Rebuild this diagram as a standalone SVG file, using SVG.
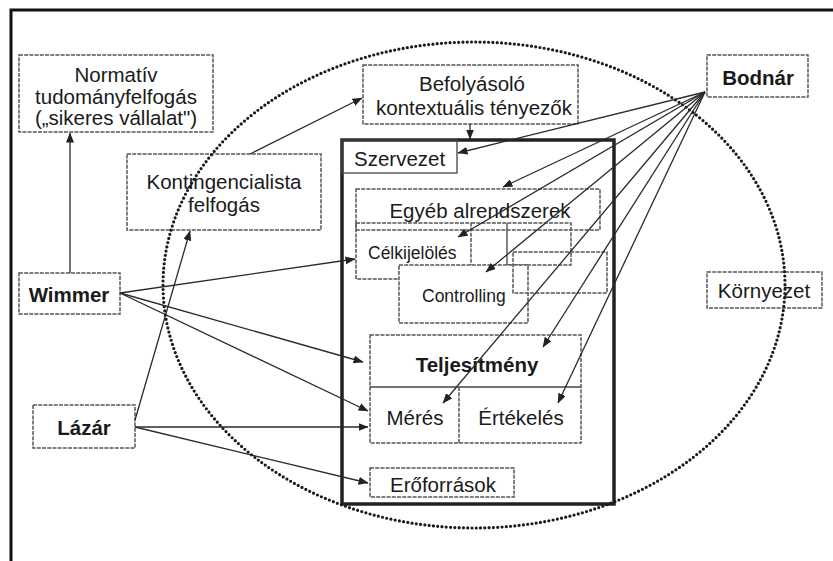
<svg xmlns="http://www.w3.org/2000/svg" width="833" height="561" viewBox="0 0 833 561">
<defs>
<marker id="ah" markerUnits="userSpaceOnUse" markerWidth="10" markerHeight="8" refX="9.5" refY="4" orient="auto">
<path d="M0,0 L10,4 L0,8 z" fill="#222"/>
</marker>
<style>
text{font-family:"Liberation Sans",Arial,sans-serif;font-size:20.5px;fill:#1a1a1a}
.b{font-weight:bold}
.s{font-size:17.5px}
.m{text-anchor:middle}
.dash{fill:none;stroke:#555;stroke-width:1.5;stroke-dasharray:4 1.2}
.dashw{fill:#fff;stroke:#555;stroke-width:1.5;stroke-dasharray:4 1.2}
.thin{fill:none;stroke:#444;stroke-width:1.3}
.conn line{stroke:#2a2a2a;stroke-width:1.3;fill:none;marker-end:url(#ah)}
</style>
</defs>
<rect width="833" height="561" fill="#fff"/>
<!-- outer frame -->
<path d="M11,561 V10 H833" fill="none" stroke="#111" stroke-width="3"/>

<g id="normativ">
<rect class="dash" x="19" y="55" width="194" height="77"/>
<text class="m" x="116" y="82">Normatív</text>
<text class="m" x="116" y="104">tudományfelfogás</text>
<text class="m" x="116" y="125">(„sikeres vállalat")</text>
</g>
<g id="kontingencialista">
<rect class="dash" x="127" y="154" width="194" height="76"/>
<text class="m" x="224" y="189">Kontingencialista</text>
<text class="m" x="224" y="212">felfogás</text>
</g>
<g id="befolyasolo">
<rect class="dash" x="363" y="65" width="215" height="59"/>
<text class="m" x="472" y="91">Befolyásoló</text>
<text class="m" x="474" y="115">kontextuális tényezők</text>
</g>
<g id="bodnar">
<rect class="dash" x="707" y="55" width="101" height="42"/>
<text class="m b" x="758" y="85">Bodnár</text>
</g>
<g id="wimmer">
<rect class="dash" x="19" y="273" width="101" height="41"/>
<text class="m b" x="69" y="302">Wimmer</text>
</g>
<g id="lazar">
<rect class="dash" x="33" y="405" width="102" height="43"/>
<text class="m b" x="84" y="435">Lázár</text>
</g>
<g id="kornyezet">
<rect class="dash" x="707" y="272" width="115" height="36"/>
<text class="m" x="764" y="298">Környezet</text>
</g>

<g id="szervezet">
<rect x="342" y="140" width="272" height="364" fill="none" stroke="#222" stroke-width="3.5"/>
<rect class="thin" x="342" y="140" width="115" height="33"/>
<text x="354" y="166">Szervezet</text>
</g>
<g id="egyeb">
<rect class="dash" x="356" y="189" width="244" height="41"/>
<text class="m" x="480" y="218">Egyéb alrendszerek</text>
</g>
<g id="alrendszer-hatter">
<path class="dash" d="M471,223 H571 V265 H507"/>
<line class="thin" x1="507" y1="223" x2="507" y2="265"/>
</g>
<g id="celkijeloles">
<rect class="dash" x="356" y="223" width="115" height="56"/>
<text class="s" x="368" y="259">Célkijelölés</text>
</g>
<g id="controlling">
<rect class="dashw" x="399" y="265" width="129" height="58"/>
<text class="s" x="422" y="302">Controlling</text>
</g>
<g id="alrendszer-jobb">
<rect class="dash" x="513" y="252" width="94" height="41"/>
</g>
<g id="teljesitmeny">
<rect class="dash" x="370" y="335" width="211" height="108"/>
<line class="thin" x1="370" y1="387" x2="581" y2="387"/>
<text class="m b" x="477" y="372">Teljesítmény</text>
</g>
<g id="meres">
<line class="dash" x1="459" y1="387" x2="459" y2="443"/>
<text class="m" x="415" y="425">Mérés</text>
</g>
<g id="ertekeles">
<text class="m" x="521" y="425">Értékelés</text>
</g>
<g id="eroforrasok">
<rect class="dash" x="370" y="468" width="144" height="29"/>
<text class="m" x="443" y="492">Erőforrások</text>
</g>

<!-- environment ellipse -->
<ellipse id="kornyezet-hatar" cx="474" cy="285" rx="311" ry="243" fill="none" stroke="#1a1a1a" stroke-width="3.2" stroke-dasharray="0 4.3" stroke-linecap="round"/>

<g class="conn" id="connectors">
<line x1="70" y1="273" x2="70" y2="133"/>
<line x1="250" y1="154" x2="362" y2="98"/>
<line x1="470" y1="124" x2="470" y2="139"/>
<line x1="135" y1="420" x2="190" y2="231"/>
<line x1="120" y1="293" x2="355" y2="259"/>
<line x1="120" y1="293" x2="363" y2="362"/>
<line x1="120" y1="293" x2="368" y2="411"/>
<line x1="135" y1="427" x2="368" y2="427"/>
<line x1="135" y1="427" x2="368" y2="483"/>
<line x1="705" y1="92" x2="458" y2="153"/>
<line x1="705" y1="92" x2="503" y2="187"/>
<line x1="705" y1="92" x2="458" y2="237"/>
<line x1="705" y1="92" x2="486" y2="272"/>
<line x1="705" y1="92" x2="443" y2="403"/>
<line x1="705" y1="92" x2="543" y2="347"/>
<line x1="705" y1="92" x2="558" y2="403"/>
</g>
</svg>
